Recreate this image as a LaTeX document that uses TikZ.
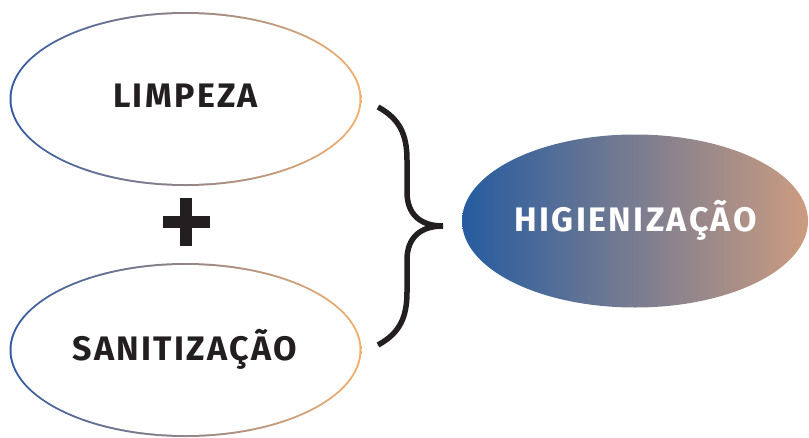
\documentclass[tikz,border=0pt]{standalone}
\usepackage{fontspec}
\setmainfont{Fira Sans}[LetterSpace=7]
\usepackage{tikz}
\usetikzlibrary{shapes.geometric, positioning}
\definecolor{ringL}{RGB}{50,90,160}
\definecolor{ringM}{RGB}{140,118,150}
\definecolor{ringR}{RGB}{243,176,110}
\definecolor{fillL}{RGB}{38,92,160}
\definecolor{fillM}{RGB}{122,112,146}
\definecolor{fillR}{RGB}{204,156,128}
\definecolor{ink}{RGB}{35,31,32}
\tikzstyle{outer} = [ellipse, inner sep=0pt, minimum width=352pt, minimum height=174pt, left color=ringL, middle color=ringM, right color=ringR]
\tikzstyle{inner} = [ellipse, inner sep=0pt, minimum width=348pt, minimum height=170pt, fill=white]
\tikzstyle{word} = [inner sep=0pt, text height=24pt, text depth=0pt, font=\fontsize{34}{34}\selectfont\bfseries, text=ink]
\tikzstyle{result} = [ellipse, inner sep=0pt, minimum width=346pt, minimum height=173pt, left color=fillL, middle color=fillM, right color=fillR]
\tikzstyle{brace} = [ink, line width=5.5pt]

\begin{document}
\begin{tikzpicture}[x=1pt, y=-1pt]
\useasboundingbox (0,0) rectangle (809,437);
%----------------------------------------------------------------------------
% Placement of the ellipses
\node (limpezaRing) [outer] at (185.5,99) {};
\node (limpezaIn) [inner] at (limpezaRing) {};
\node (limpeza) [word] at (185.5,95) {LIMPEZA};

\node (sanitRing) [outer] at (185.5,350) {};
\node (sanitIn) [inner] at (sanitRing) {};
\node (sanit) [word] at (185,348.5) {SANITIZAÇÃO};

\node (higien) [result] at (635,221) {};
\node (higienText) [word, text=white] at (635.5,219.5) {HIGIENIZAÇÃO};

%----------------------------------------------------------------------------
% Plus sign
\coordinate (plus) at (186,222);
\fill [ink] (plus) +(-23.5,-6) rectangle +(23.5,6);
\fill [ink] (plus) +(-6,-24) rectangle +(6,24);

%----------------------------------------------------------------------------
% Brace
\draw [brace] (378,107) .. controls (400,119) and (407,135) .. (407,160) -- (407,192)
  .. controls (407,214) and (420,226) .. (443,226)
  .. controls (420,226) and (407,238) .. (407,260) -- (407,292)
  .. controls (407,317) and (400,333) .. (378,345);
\end{tikzpicture}
\end{document}
